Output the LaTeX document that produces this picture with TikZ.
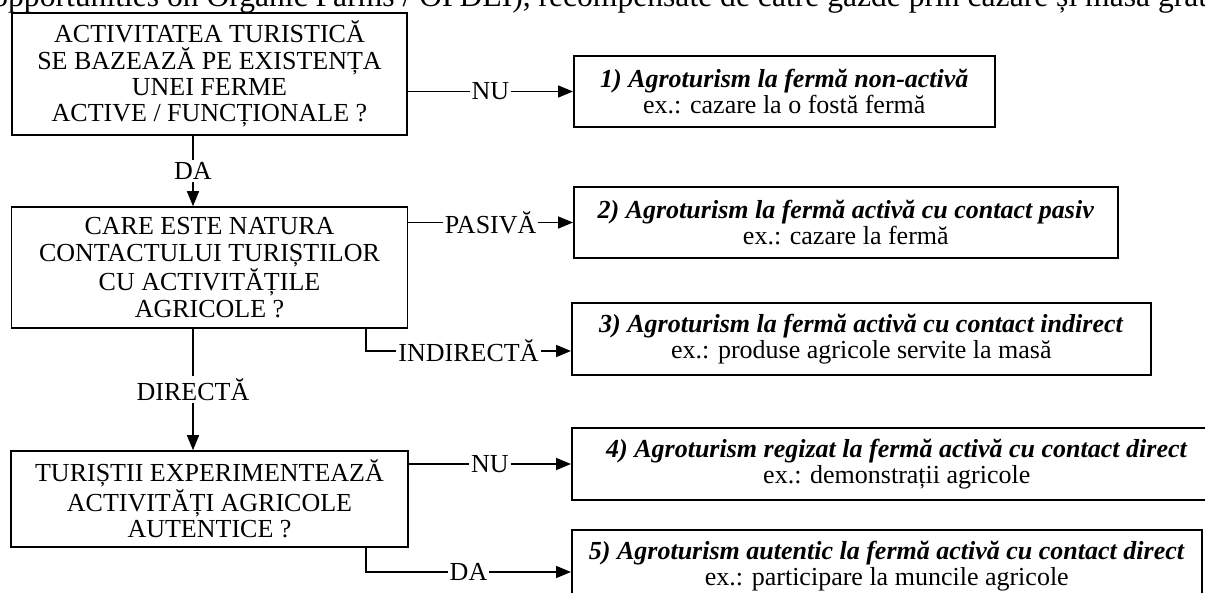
\documentclass[tikz,border=0pt]{standalone}
\usepackage{fontspec}
\setmainfont{Liberation Serif}
\usetikzlibrary{arrows.meta}

\begin{document}
\begin{tikzpicture}[x=0.5pt, y=-0.5pt,
    question/.style={draw, line width=0.8pt, align=center, inner sep=0pt,
        font=\fontsize{13pt}{13.2pt}\selectfont},
    result/.style={draw, line width=0.8pt, align=center, inner sep=0pt, anchor=west,
        minimum height=36pt, font=\fontsize{13pt}{12.8pt}\selectfont},
    answer/.style={fill=white, inner sep=1pt, font=\fontsize{13pt}{13pt}\selectfont},
    link/.style={line width=0.75pt, -{Triangle[length=7.5pt,width=6pt]}}]
    \useasboundingbox (0,0) rectangle (1205,593);
    \clip (0,0) rectangle (1205,593);

    % text of the page above the figure
    \node[anchor=base west, inner sep=0pt, font=\fontsize{15.8pt}{16pt}\selectfont] (body) at (-8,7)
        {opportunities on Organic Farms / OPDEI), recompensate de către gazde prin cazare și masă grat};

    % questions
    \node[question, minimum width=197.5pt, minimum height=61pt] (qa) at (209.5,74)
        {ACTIVITATEA TURISTICĂ\\SE BAZEAZĂ PE EXISTENȚA\\UNEI FERME\\ACTIVE / FUNCȚIONALE ?};
    \node[question, minimum width=198pt, minimum height=60.5pt] (qb) at (209.5,267.5)
        {CARE ESTE NATURA\\CONTACTULUI TURIȘTILOR\\CU ACTIVITĂȚILE\\AGRICOLE ?};
    \node[question, minimum width=198.5pt, minimum height=48pt] (qc) at (209.5,499)
        {TURIȘTII EXPERIMENTEAZĂ\\ACTIVITĂȚI AGRICOLE\\AUTENTICE ?};

    % types of agrotourism
    \node[result, minimum width=210.5pt, minimum height=35.5pt] (r1) at (573,91.5)
        {\textbf{\textit{1) Agroturism la fermă non-activă}}\\ex.: cazare la o fostă fermă};
    \node[result, minimum width=272pt, minimum height=35.5pt] (r2) at (573,222.5)
        {\textbf{\textit{2) Agroturism la fermă activă cu contact pasiv}}\\ex.: cazare la fermă};
    \node[result, minimum width=289.5pt] (r3) at (571,339)
        {\textbf{\textit{3) Agroturism la fermă activă cu contact indirect}}\\ex.: produse agricole servite la masă};
    \node[result, minimum width=325pt] (r4) at (571,464)
        {\textbf{\textit{4) Agroturism regizat la fermă activă cu contact direct}}\\ex.: demonstrații agricole};
    \node[result, minimum width=315pt] (r5) at (571,566)
        {\textbf{\textit{5) Agroturism autentic la fermă activă cu contact direct}}\\ex.: participare la muncile agricole};

    % bends of the connectors
    \coordinate (col) at (193,0);
    \coordinate (ki) at (366,351);
    \coordinate (kd) at (366,572);

    % answers
    \draw[link] (qa.east |- r1.west) -- node[answer]{NU} (r1.west);
    \draw[link] (qa.south -| col) -- node[answer]{DA} (qb.north -| col);
    \draw[link] (qb.east |- r2.west) -- node[answer]{PASIVĂ} (r2.west);
    \draw[link] (qb.south -| ki) |- node[answer, pos=0.75]{INDIRECTĂ} (r3.west |- ki);
    \draw[link] (qb.south -| col) -- node[answer]{DIRECTĂ} (qc.north -| col);
    \draw[link] (qc.east |- r4.west) -- node[answer]{NU} (r4.west);
    \draw[link] (qc.south -| kd) |- node[answer, pos=0.75]{DA} (r5.west |- kd);
\end{tikzpicture}
\end{document}
